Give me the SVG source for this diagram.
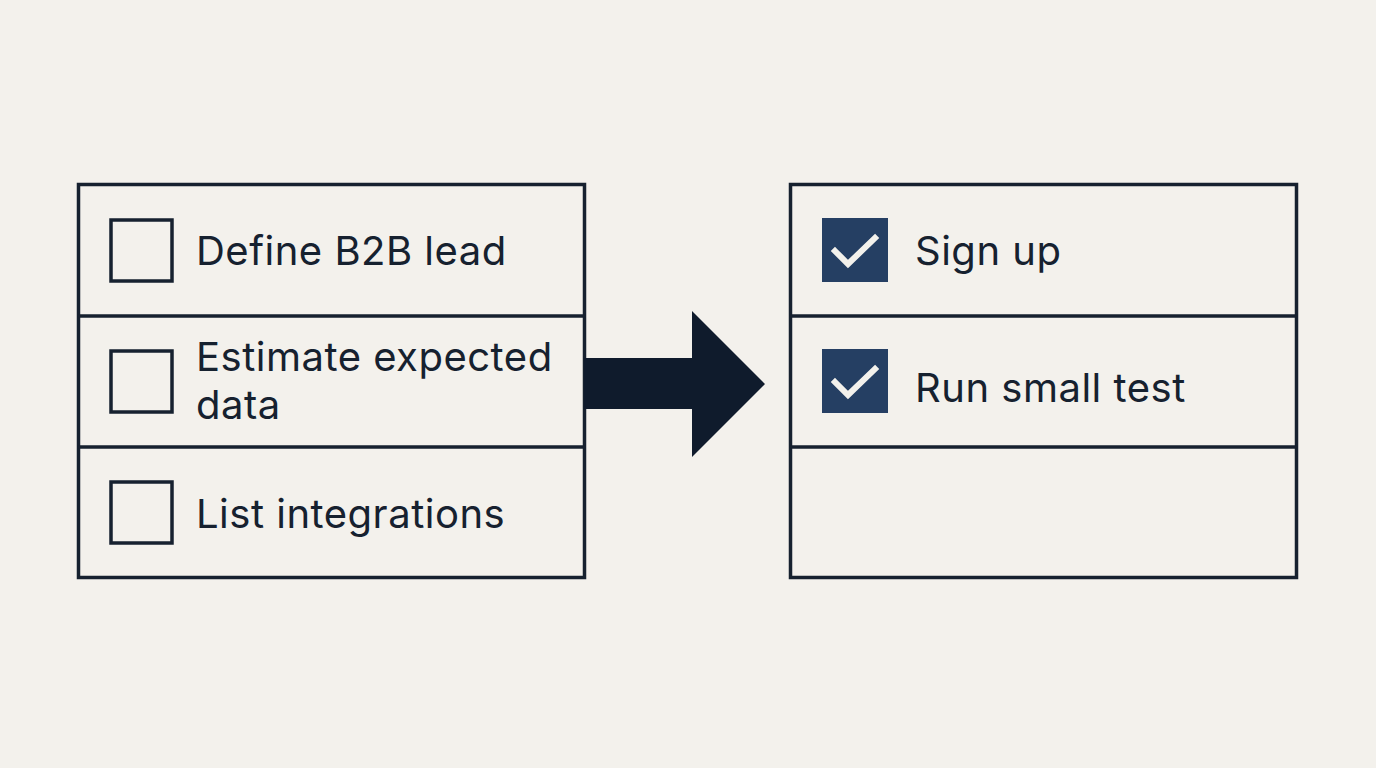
<svg xmlns="http://www.w3.org/2000/svg" width="1376" height="768" viewBox="0 0 1376 768">
<style>
.frame{fill:none;stroke:#16212f;stroke-width:3.5}
.div{stroke:#16212f;stroke-width:3.5}
.box{fill:none;stroke:#16212f;stroke-width:3.5}
.done{fill:#253f63}
.tick{fill:none;stroke:#f3f1ec;stroke-width:6;stroke-linecap:square;stroke-linejoin:miter}
.t{font-family:Inter,"Noto Sans",sans-serif;font-size:40px;letter-spacing:0.5px;fill:#16212f}
</style>
<rect width="1376" height="768" fill="#f3f1ec"/>
<g id="todo-list">
<rect class="frame" x="78.5" y="184.5" width="506" height="393"/>
<line class="div" x1="78" y1="316" x2="585" y2="316"/>
<line class="div" x1="78" y1="447" x2="585" y2="447"/>
</g>
<g id="item-define">
<rect class="box" x="111" y="220" width="61" height="61"/>
<text class="t" x="196" y="265">Define B2B lead</text>
</g>
<g id="item-estimate">
<rect class="box" x="111" y="351" width="61" height="61"/>
<text class="t" x="196" y="371">Estimate expected</text>
<text class="t" x="196" y="419">data</text>
</g>
<g id="item-list">
<rect class="box" x="111" y="482" width="61" height="61"/>
<text class="t" x="196" y="528">List integrations</text>
</g>
<g id="connectors">
<polygon fill="#0f1b2c" points="584,358 692,358 692,311 765,384 692,457 692,409 584,409"/>
</g>
<g id="done-list">
<rect class="frame" x="790.5" y="184.5" width="506" height="393"/>
<line class="div" x1="790" y1="316" x2="1297" y2="316"/>
<line class="div" x1="790" y1="447" x2="1297" y2="447"/>
</g>
<g id="item-signup">
<rect class="done" x="822" y="218" width="66" height="64"/>
<polyline class="tick" points="835,251 848,264 875,238"/>
<text class="t" x="915" y="265">Sign up</text>
</g>
<g id="item-test">
<rect class="done" x="822" y="349" width="66" height="64"/>
<polyline class="tick" points="835,382 848,395 875,369"/>
<text class="t" x="915" y="402">Run small test</text>
</g>
</svg>
